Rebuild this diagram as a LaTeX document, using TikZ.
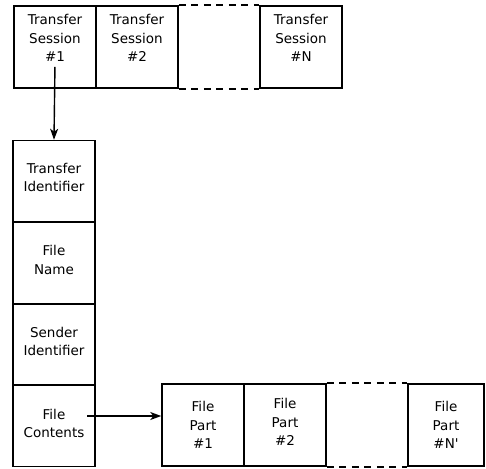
\documentclass[tikz,border=0pt]{standalone}
\usepackage{fontspec}
\setmainfont{DejaVu Sans}
\usetikzlibrary{arrows.meta}
\tikzset{
  cell/.style={draw, line width=1.5pt, minimum width=82pt, minimum height=82pt, inner sep=0pt},
  txt/.style={align=center, font=\fontsize{13.5}{18.5}\selectfont, inner sep=1pt},
  gap/.style={line width=1.7pt, dash pattern=on 7pt off 5.5pt},
  link/.style={line width=1.4pt, -{Stealth[length=11pt, width=8pt, inset=3pt]}}
}
\begin{document}
\begin{tikzpicture}[x=1pt, y=-1pt]
        \useasboundingbox (0,0) rectangle (486,468);

        % transfer sessions
        \node[cell] (s1) at (55,47) {};
        \node[cell] (s2) at (137,47) {};
        \node[cell] (sN) at (301,47) {};
        \node[txt] (t1) at ([yshift=9pt]s1.center) {Transfer\\Session\\\#1};
        \node[txt] (t2) at ([yshift=9pt]s2.center) {Transfer\\Session\\\#2};
        \node[txt] (tN) at ([yshift=9pt]sN.center) {Transfer\\Session\\\#N};
        \draw[gap] (s2.north east) -- (sN.north west);
        \draw[gap] (s2.south east) -- (sN.south west);

        % fields of one session
        \node[cell] (c1) at (54,181.5) {};
        \node[cell] (c2) at (54,263) {};
        \node[cell] (c3) at (54,344.5) {};
        \node[cell] (c4) at (54,425.5) {};
        \node[txt] at ([yshift=4pt]c1.center) {Transfer\\Identifier};
        \node[txt] at ([yshift=3pt]c2.center) {File\\Name};
        \node[txt] at ([yshift=3pt]c3.center) {Sender\\Identifier};
        \node[txt] (f4) at ([yshift=2pt]c4.center) {File\\Contents};

        % file parts
        \node[cell] (p1) at (203,425) {};
        \node[cell] (p2) at (285,425) {};
        \node[cell, minimum width=76pt] (pN) at (446,425) {};
        \node[txt] at (p1.center) {File\\Part\\\#1};
        \node[txt] at ([yshift=3pt]p2.center) {File\\Part\\\#2};
        \node[txt] at (pN.center) {File\\Part\\\#N\textquotesingle};
        \draw[gap] (p2.north east) -- (pN.north west);
        \draw[gap] (p2.south east) -- (pN.south west);

        % pointers
        \draw[link, shorten <=4pt] (t1.south) -- (c1.north);
        \coordinate (fc) at (87,416);
        \draw[link] (fc) -- (p1.west |- fc);
\end{tikzpicture}
\end{document}
